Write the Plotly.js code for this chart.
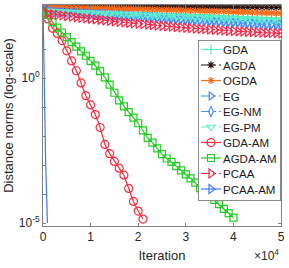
<!DOCTYPE html>
<html>
<head>
<meta charset="utf-8">
<script src="https://cdn.plot.ly/plotly-3.0.1.min.js"></script>
<style>html,body{margin:0;padding:0;background:#fff;}#chart{width:289px;height:268px;}</style>
</head>
<body>
<div id="chart"></div>
<script>
// Iterations for the slowly-converging methods
var itersSlow = [0,1000,2000,3000,4000,5000,6000,7000,8000,9000,10000,11000,12000,13000,14000,15000,16000,17000,18000,19000,20000,21000,22000,23000,24000,25000,26000,27000,28000,29000,30000,31000,32000,33000,34000,35000,36000,37000,38000,39000,40000,41000,42000,43000,44000,45000,46000,47000,48000,49000,50000];

var gda = [316,227,224.8,222.5,220.3,218,215.8,213.5,211.3,209,206.8,204.5,202.3,200,197.8,195.6,193.3,191.1,188.8,186.6,184.3,182.1,179.8,177.6,175.3,173.1,170.8,168.6,166.3,164.1,161.8,159.6,157.4,155.1,152.9,150.6,148.4,146.1,143.9,141.6,139.4,137.1,134.9,132.6,130.4,128.1,125.9,123.7,121.4,119.2,117];
var agda = [316,300,299.6,299.2,298.8,298.4,298,297.6,297.2,296.8,296.4,296,295.6,295.2,294.8,294.4,294,293.6,293.2,292.8,292.4,292,291.6,291.2,290.8,290.4,290,289.6,289.2,288.8,288.4,288,287.6,287.2,286.8,286.4,286,285.6,285.2,284.8,284.4,284,283.6,283.2,282.8,282.4,282,281.6,281.2,280.8,280.4];
var ogda = [316,290,287.6,285.3,282.9,280.5,278.2,275.8,273.4,271.1,268.7,266.3,264,261.6,259.2,256.9,254.5,252.1,249.8,247.4,245,242.7,240.3,237.9,235.6,233.2,230.8,228.5,226.1,223.7,221.4,219,216.6,214.3,211.9,209.5,207.2,204.8,202.4,200.1,197.7,195.3,193,190.6,188.2,185.9,183.5,181.1,178.8,176.4,174];
var eg = [316,196.3,192.1,188.0,183.9,180.0,176.1,172.3,168.6,165.0,161.5,158.0,154.6,151.3,148.0,144.8,141.7,138.7,135.7,132.8,129.9,127.1,124.4,121.7,119.1,116.5,114.0,111.6,109.2,106.8,104.5,102.3,100.1,97.9,95.8,93.8,91.7,89.8,87.8,86.0,84.1,82.3,80.5,78.8,77.1,75.4,73.8,72.2,70.7,69.2,67.7];
var egnm = [316,206.1,201.7,197.4,193.1,189.0,184.9,180.9,177.0,173.3,169.6,165.9,162.3,158.9,155.4,152.0,148.8,145.6,142.5,139.4,136.4,133.5,130.6,127.8,125.1,122.3,119.7,117.2,114.7,112.1,109.7,107.4,105.1,102.8,100.6,98.5,96.3,94.3,92.2,90.3,88.3,86.4,84.5,82.7,81.0,79.2,77.5,75.8,74.2,72.7,71.1];
var egpm = [316,210,206.6,203.3,200.1,196.9,193.7,190.6,187.6,184.6,181.6,178.7,175.8,173.0,170.2,167.5,164.8,162.2,159.6,157.0,154.5,152.0,149.6,147.2,144.8,142.5,140.2,138.0,135.8,133.6,131.5,129.4,127.3,125.3,123.3,121.3,119.3,117.4,115.5,113.7,111.9,110.1,108.3,106.6,104.9,103.2,101.5,99.9,98.3,96.7,95.2];
var pcaa = [316,169.8,161.8,154.2,147.1,140.4,134.1,128.2,122.6,117.4,112.4,107.8,103.4,99.2,95.3,91.6,88.1,84.8,81.7,78.7,75.9,73.3,70.8,68.4,66.2,64.1,62.0,60.1,58.3,56.6,55.0,53.4,52.0,50.6,49.3,48.0,46.8,45.7,44.6,43.6,42.7,41.7,40.9,40.1,39.3,38.6,37.9,37.2,36.6,36.0,35.5];

// GDA-AM
var itersGdaAm = [0,1000,2000,3000,4000,5000,6000,7000,8000,9000,10000,11000,12000,13000,14000,15000,16000,17000,18000,19000,20000,21000];
var gdaAm = [316,112,53.7,35.5,20,8.9,3.98,1.82,0.69,0.25,0.12,0.056,0.02,0.0052,0.0025,0.00135,0.00079,0.00045,0.000158,0.000056,0.000026,0.0000138];

// AGDA-AM
var itersAgdaAm = [0,1000,2000,3000,4000,5000,6000,7000,8000,9000,10000,11000,12000,13000,14000,15000,16000,17000,18000,19000,20000,21000,22000,23000,24000,25000,26000,27000,28000,29000,30000,31000,32000,33000,34000,35000,36000,37000,38000,39000,40000];
var agdaAm = [316,158,87,56,38,26.3,17.8,12.3,8.5,6.0,4.0,2.75,1.78,1.07,0.60,0.316,0.174,0.107,0.068,0.044,0.028,0.0158,0.0087,0.006,0.0038,0.0024,0.0017,0.00129,0.00093,0.00066,0.00048,0.00035,0.00025,0.000162,0.000117,0.000085,0.000063,0.000045,0.000031,0.000022,0.0000155];

// PCAA-AM
var itersPcaaAm = [0,120,240,360,550,740,930];
var pcaaAm = [316,12.6,0.4,0.0158,0.00126,0.000126,0.00001];

var yTickVals = [1e-5,1e-4,1e-3,1e-2,1e-1,1,10,100];
var yTickText = ['10<sup>-5</sup>','','','','','10<sup>0</sup>','',''];
var xTickVals = [0,10000,20000,30000,40000,50000];
var xTickText = ['0','1','2','3','4','5'];

function tr(name, x, y, color, dash, symbol, msize) {
  return {
    type: 'scatter', mode: 'lines+markers', name: name, x: x, y: y,
    line: {color: color, width: 1.2, dash: dash},
    marker: {symbol: symbol, size: msize, color: color, line: {color: color, width: 1.2}}
  };
}

var pcaaAmSizes = [7,0,0,0,0,0,0];
var pcaaAmColor = '#3a78ff';

var data = [
  tr('GDA', itersSlow, gda, '#52eeb8', 'solid', 'cross-thin-open', 7),
  tr('AGDA', itersSlow, agda, '#2a1414', 'dashdot', 'asterisk-open', 6),
  tr('OGDA', itersSlow, ogda, '#ff6a14', 'solid', 'asterisk-open', 6),
  tr('EG', itersSlow, eg, '#4a88ff', 'dashdot', 'triangle-right-open', 7),
  tr('EG-NM', itersSlow, egnm, '#4a92ff', 'dashdot', 'diamond-tall-open', 7),
  tr('EG-PM', itersSlow, egpm, '#5ef0c8', 'dash', 'triangle-down-open', 7),
  tr('GDA-AM', itersGdaAm, gdaAm, '#ff2a3a', 'solid', 'circle-open', 8),
  tr('AGDA-AM', itersAgdaAm, agdaAm, '#22cc22', 'solid', 'square-open', 7),
  tr('PCAA', itersSlow, pcaa, '#ff2444', 'dashdot', 'triangle-right-open', 8),
  tr('PCAA-AM', itersPcaaAm, pcaaAm, pcaaAmColor, 'solid', 'triangle-right-open', 7)
];
data[9].marker.size = pcaaAmSizes;

var font = 'Liberation Sans, Arial, sans-serif';
var layout = {
  width: 289, height: 268,
  margin: {l: 43, r: 8, t: 5, b: 42},
  paper_bgcolor: '#fff', plot_bgcolor: '#fff',
  font: {family: font, size: 12, color: '#262626'},
  showlegend: true,
  legend: {
    x: 0.3, y: 1, xanchor: 'left', yanchor: 'top',
    bgcolor: '#ffffff', bordercolor: '#8a8a8a', borderwidth: 1,
    font: {family: font, size: 11.5, color: '#1a1a1a'},
    tracegroupgap: 0, itemwidth: 30
  },
  xaxis: {
    range: [0, 50000], tickvals: xTickVals, ticktext: xTickText,
    ticks: 'inside', ticklen: 3, tickcolor: '#808080',
    showline: true, linecolor: '#808080', linewidth: 1, mirror: 'ticks',
    showgrid: false, zeroline: false, automargin: false,
    tickfont: {size: 12, color: '#262626'},
    title: {text: 'Iteration', font: {size: 13, color: '#262626'}, standoff: 7}
  },
  yaxis: {
    type: 'log', range: [-5.1, 2.53], tickvals: yTickVals, ticktext: yTickText,
    ticks: 'inside', ticklen: 3, tickcolor: '#808080',
    showline: true, linecolor: '#808080', linewidth: 1, mirror: 'ticks',
    showgrid: false, zeroline: false, automargin: false,
    tickfont: {size: 12, color: '#262626'},
    title: {text: 'Distance norms (log-scale)', font: {size: 13, color: '#262626'}, standoff: 2}
  },
  annotations: [{
    xref: 'paper', yref: 'paper', x: 1.0, y: -0.176, xanchor: 'right', yanchor: 'bottom',
    text: '×10<sup>4</sup>', showarrow: false, font: {size: 12, color: '#262626'}
  }]
};

Plotly.newPlot('chart', data, layout, {displayModeBar: false, staticPlot: true}).then(function (gd) {
  // compact the legend rows to match the tight MATLAB-style legend
  try {
    var leg = gd.querySelector('.legend');
    if (!leg) return;
    var items = leg.querySelectorAll('.traces');
    var rowH = 15.5, top = 9.5;
    var maxTextW = 0;
    items.forEach(function (it, i) {
      it.setAttribute('transform', 'translate(0,' + (top + i * rowH) + ')');
      it.querySelectorAll('.legendlines path').forEach(function (p) { p.setAttribute('d', 'M3,0h20'); });
      it.querySelectorAll('.legendpoints path').forEach(function (p) {
        p.setAttribute('transform', 'translate(13,0)');
      });
      var txt = it.querySelector('text.legendtext');
      if (txt) {
        txt.setAttribute('x', 25);
        var w = txt.getComputedTextLength ? txt.getComputedTextLength() : 50;
        if (w > maxTextW) maxTextW = w;
      }
      var tg = it.querySelector('rect.legendtoggle');
      if (tg) { tg.setAttribute('height', rowH); tg.setAttribute('y', -rowH / 2); }
    });
    // PCAA-AM legend marker: same glyph as PCAA, in its own colour
    if (items.length >= 10) {
      var refP = items[8].querySelector('.legendpoints path');
      var tgtG = items[9].querySelector('.legendpoints');
      if (refP && tgtG) {
        tgtG.querySelectorAll('path').forEach(function (p) { p.parentNode.removeChild(p); });
        var c = refP.cloneNode(true);
        c.style.stroke = pcaaAmColor;
        c.style.fill = 'none';
        c.style.opacity = 1;
        c.setAttribute('transform', 'translate(13,0)');
        var holder = refP.parentNode === items[8].querySelector('.legendpoints') ? tgtG : (tgtG.querySelector('g') || tgtG);
        holder.appendChild(c);
      }
    }
    var W = Math.round(25 + maxTextW + 3), H = Math.round(top * 2 + rowH * (items.length - 1) + 1);
    var bg = leg.querySelector('rect.bg');
    if (bg) { bg.setAttribute('width', W); bg.setAttribute('height', H); }
    var plotRight = 43 + 238;
    leg.setAttribute('transform', 'translate(' + (plotRight - 1 - W) + ',40)');
  } catch (e) {}
});
</script>
</body>
</html>
